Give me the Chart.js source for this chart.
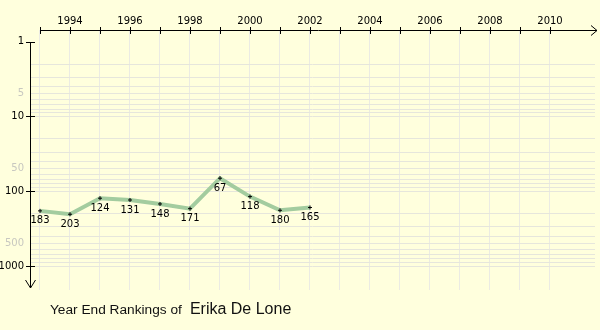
<!DOCTYPE html>
<html lang="en">
<head>
    <title>Year End Rankings</title>
    <meta charset="utf-8">
    <script src="https://cdn.jsdelivr.net/npm/chart.js"></script>
<style>
        body {
            margin: 0;
            background-color: #ffffdd;
        }
        .wrap {
            position: relative;
            width: 600px;
            height: 330px;
        }
        .caption {
            position: absolute;
            left: 50px;
            top: 300px;
            font-family: "Liberation Sans", Arial, sans-serif;
            color: #111;
            white-space: nowrap;
        }
        .caption .small { font-size: 13.7px; }
        .caption .name { font-size: 16px; margin-left: 8px; }
    </style>
</head>
<body>
    <div class="wrap">
        <canvas id="rankChart" width="600" height="330"></canvas>
        <div class="caption"><span class="small">Year End Rankings of</span><span class="name">Erika De Lone</span></div>
    </div>

    <script>
        const years = [1993, 1994, 1995, 1996, 1997, 1998, 1999, 2000, 2001, 2002];
        const rankings = [183, 203, 124, 131, 148, 171, 67, 118, 180, 165];
        const rankTicks = [1, 2, 3, 4, 5, 6, 7, 8, 9, 10, 20, 30, 40, 50, 60, 70, 80, 90,
                           100, 200, 300, 400, 500, 600, 700, 800, 900, 1000];
        const majorTicks = [1, 10, 100, 1000];
        const faintTicks = [5, 50, 500];
        const yearTicks = [1993, 1994, 1995, 1996, 1997, 1998, 1999, 2000, 2001, 2002,
                           2003, 2004, 2005, 2006, 2007, 2008, 2009, 2010];

        const fontFamily = '"DejaVu Sans", Verdana, sans-serif';

        // axes with arrow heads, tick marks and the rank labels under each point
        const decorations = {
            id: 'decorations',
            afterDatasetsDraw(chart) {
                const ctx = chart.ctx;
                const x = chart.scales.x, y = chart.scales.y;
                const ax = x.left, ay = y.top;
                ctx.save();
                ctx.strokeStyle = '#000';
                ctx.lineWidth = 1;
                ctx.beginPath();
                // x axis along the top
                ctx.moveTo(x.getPixelForValue(1993), ay + 0.5);
                ctx.lineTo(597, ay + 0.5);
                ctx.moveTo(591, ay - 4.5);
                ctx.lineTo(597, ay + 0.5);
                ctx.lineTo(591, ay + 5.5);
                // y axis down the left
                const yTop = Math.round(y.getPixelForValue(1));
                ctx.moveTo(ax + 0.5, yTop);
                ctx.lineTo(ax + 0.5, 288);
                ctx.moveTo(ax - 4.5, 280);
                ctx.lineTo(ax + 0.5, 288);
                ctx.lineTo(ax + 5.5, 280);
                yearTicks.forEach(function (v) {
                    const px = Math.round(x.getPixelForValue(v)) + 0.5;
                    ctx.moveTo(px, ay - 3);
                    ctx.lineTo(px, ay + 4);
                });
                majorTicks.forEach(function (v) {
                    const py = Math.round(y.getPixelForValue(v)) + 0.5;
                    ctx.moveTo(ax - 4, py);
                    ctx.lineTo(ax + 5, py);
                });
                ctx.stroke();

                ctx.fillStyle = '#000';
                ctx.font = '10px ' + fontFamily;
                ctx.textAlign = 'center';
                ctx.textBaseline = 'middle';
                const meta = chart.getDatasetMeta(0);
                meta.data.forEach(function (pt, i) {
                    ctx.fillText(String(rankings[i]), pt.x, pt.y + 10);
                });
                ctx.restore();
            }
        };

        new Chart(document.getElementById('rankChart'), {
            type: 'line',
            data: {
                datasets: [{
                    data: years.map(function (yr, i) { return { x: yr, y: rankings[i] }; }),
                    borderColor: '#a3cc9f',
                    borderWidth: 4,
                    tension: 0,
                    pointStyle: 'cross',
                    pointRadius: 2,
                    pointBorderColor: '#000',
                    pointBorderWidth: 1,
                    pointBackgroundColor: '#000'
                }]
            },
            options: {
                responsive: false,
                animation: false,
                layout: { padding: { top: 0, right: 0, bottom: 40, left: 0 } },
                plugins: {
                    legend: { display: false },
                    tooltip: { enabled: false }
                },
                scales: {
                    x: {
                        type: 'linear',
                        position: 'top',
                        // plot area is 565px wide: 30px per year, 1993 sits 10px in
                        min: 1993 - 1 / 3,
                        max: 1993 - 1 / 3 + 565 / 30,
                        afterFit: function (scale) {
                            scale.height = 30;
                            scale.paddingLeft = 0;
                            scale.paddingRight = 0;
                        },
                        afterBuildTicks: function (scale) {
                            scale.ticks = yearTicks.map(function (v) { return { value: v }; });
                        },
                        border: { display: false },
                        grid: {
                            drawTicks: false,
                            color: '#ebebe3'
                        },
                        ticks: {
                            color: '#000',
                            font: { family: fontFamily, size: 10 },
                            padding: 3,
                            maxRotation: 0,
                            autoSkip: false,
                            callback: function (v) { return v % 2 === 0 ? String(v) : ''; }
                        }
                    },
                    y: {
                        type: 'logarithmic',
                        reverse: true,
                        min: 0.713,
                        max: 2090,
                        afterFit: function (scale) {
                            scale.width = 30;
                            scale.paddingTop = 0;
                            scale.paddingBottom = 0;
                        },
                        afterBuildTicks: function (scale) {
                            scale.ticks = rankTicks.map(function (v) { return { value: v }; });
                        },
                        border: { display: false },
                        grid: {
                            drawTicks: false,
                            color: function (c) {
                                return c.tick && c.tick.value === 1 ? 'rgba(0,0,0,0)' : '#e6e6dc';
                            }
                        },
                        ticks: {
                            font: { family: fontFamily, size: 10 },
                            padding: 6,
                            autoSkip: false,
                            color: function (c) {
                                return faintTicks.indexOf(c.tick.value) >= 0 ? '#c8c8c0' : '#000';
                            },
                            callback: function (v) {
                                if (majorTicks.indexOf(v) >= 0 || faintTicks.indexOf(v) >= 0) return String(v);
                                return '';
                            }
                        }
                    }
                }
            },
            plugins: [decorations]
        });
    </script>
</body>
</html>
